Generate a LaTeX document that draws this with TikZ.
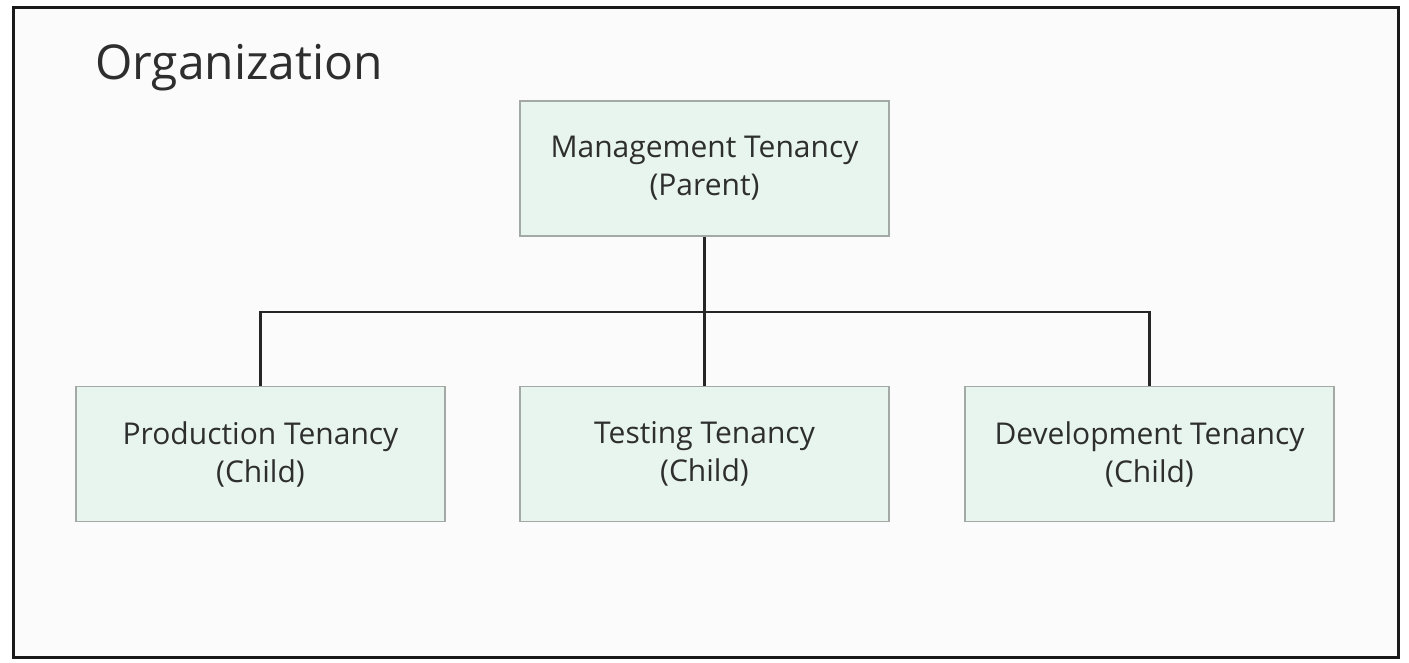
\documentclass[tikz,border=0pt]{standalone}
\usepackage{fontspec}
\setmainfont{Open Sans}
\begin{document}
\begin{tikzpicture}[x=1pt,y=-1pt,
  tbox/.style={draw=boxline, fill=boxfill, line width=1.6pt, minimum width=369pt, minimum height=135pt, align=center, font=\fontsize{30}{38}\selectfont, text=txt, inner sep=0pt},
  conn/.style={draw=black!85, line width=2.2pt}]
\definecolor{boxfill}{HTML}{E7F5EE}
\definecolor{boxline}{HTML}{A3AAA6}
\definecolor{txt}{HTML}{2E2E2E}
\definecolor{bg}{HTML}{FBFBFB}
\useasboundingbox (0,0) rectangle (1409,663);
\fill[white] (0,0) rectangle (1409,663);
\node[draw=black!90, fill=bg, line width=3pt, minimum width=1385pt, minimum height=649pt, inner sep=0pt] (org) at (705.5,332.5) {};
\node[anchor=base west, font=\fontsize{48}{52}\selectfont, text=txt, inner sep=0pt] (title) at (95,80) {Organization};
\node[tbox] (mgmt) at (704.5,168.5) {Management Tenancy\\(Parent)};
\node[tbox] (prod) at (260.5,454) {Production Tenancy\\(Child)};
\node[tbox] (test) at (704.5,454) {Testing Tenancy\\(Child)};
\node[tbox] (dev) at (1149.5,454) {Development Tenancy\\(Child)};
\coordinate (bus) at (704.5,312);
\draw[conn] (mgmt.south) -- (test.north);
\draw[conn] (prod.north) |- (bus) -| (dev.north);
\end{tikzpicture}
\end{document}
